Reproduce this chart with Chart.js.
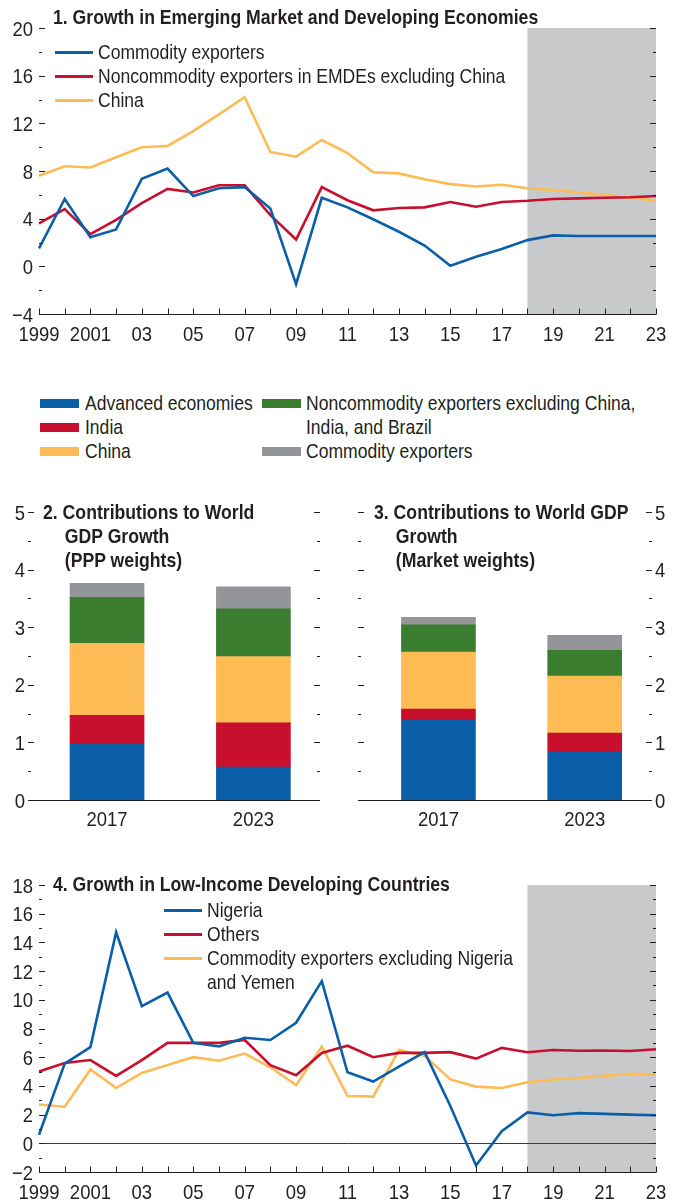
<!DOCTYPE html>
<html>
<head>
<meta charset="utf-8">
<script src="https://cdn.jsdelivr.net/npm/chart.js@4.4.1/dist/chart.umd.min.js"></script>
<style>
  body { margin: 0; background: #fff; }
  #page {
    position: relative; width: 681px; height: 1201px; overflow: hidden;
    font-family: "Liberation Sans", Arial, sans-serif;
    font-size: 21px; color: #231f20;
  }
  canvas { position: absolute; }
  /* condensed look: Arial metrics squeezed horizontally */
  .title { position: absolute; font-weight: bold; line-height: 24px; white-space: nowrap;
    transform: scaleX(0.84); transform-origin: 0 0; }
  .hang { padding-left: 26px; text-indent: -26px; }
  .key { position: absolute; line-height: 24px; white-space: nowrap;
    transform: scaleX(0.835); transform-origin: 0 0; }
  .ln { position: absolute; height: 3px; }
  .sw { position: absolute; height: 9px; }
</style>
</head>
<body>
<div id="page">
  <canvas id="emde" width="681" height="345" style="left:0;top:0"></canvas>
  <canvas id="ppp" width="340" height="345" style="left:0;top:490px"></canvas>
  <canvas id="market" width="341" height="345" style="left:340px;top:490px"></canvas>
  <canvas id="lidc" width="681" height="341" style="left:0;top:860px"></canvas>

  <div class="title" style="left:53px;top:5px">1. Growth in Emerging Market and Developing Economies</div>
  <div class="ln" style="left:55px;top:51px;width:38px;background:#0b5fa8"></div>
  <div class="key" style="left:98px;top:40px">Commodity exporters</div>
  <div class="ln" style="left:55px;top:75px;width:38px;background:#c8102e"></div>
  <div class="key" style="left:98px;top:64px">Noncommodity exporters in EMDEs excluding China</div>
  <div class="ln" style="left:55px;top:99px;width:38px;background:#fdbb55"></div>
  <div class="key" style="left:98px;top:88px">China</div>

  <div class="sw" style="left:40px;top:399px;width:39px;background:#0b5fa8"></div>
  <div class="key" style="left:85px;top:391px">Advanced economies</div>
  <div class="sw" style="left:40px;top:423px;width:39px;background:#c8102e"></div>
  <div class="key" style="left:85px;top:415px">India</div>
  <div class="sw" style="left:40px;top:447px;width:39px;background:#fdbb55"></div>
  <div class="key" style="left:85px;top:439px">China</div>
  <div class="sw" style="left:262px;top:399px;width:39px;background:#3a7d2e"></div>
  <div class="key" style="left:306px;top:391px">Noncommodity exporters excluding China,<br>India, and Brazil</div>
  <div class="sw" style="left:262px;top:447px;width:39px;background:#939598"></div>
  <div class="key" style="left:306px;top:439px">Commodity exporters</div>

  <div class="title hang" style="left:43px;top:500px">2. Contributions to World<br>GDP Growth<br>(PPP weights)</div>
  <div class="title hang" style="left:374px;top:500px">3. Contributions to World GDP<br>Growth<br>(Market weights)</div>

  <div class="title" style="left:53px;top:872px">4. Growth in Low-Income Developing Countries</div>
  <div class="ln" style="left:164px;top:909px;width:38px;background:#0b5fa8"></div>
  <div class="key" style="left:207px;top:898px">Nigeria</div>
  <div class="ln" style="left:164px;top:933px;width:38px;background:#c8102e"></div>
  <div class="key" style="left:207px;top:922px">Others</div>
  <div class="ln" style="left:164px;top:957px;width:38px;background:#fdbb55"></div>
  <div class="key" style="left:207px;top:946px">Commodity exporters excluding Nigeria<br>and Yemen</div>
</div>

<script>
const BLUE = "#0b5fa8", RED = "#c8102e", YELLOW = "#fdbb55", GREEN = "#3a7d2e", GRAY = "#939598";
const SHADE = "#c8c9cb", INK = "#231f20";
const LABEL_FONT = '21px "Liberation Sans", Arial, sans-serif';
const LABEL_SQUEEZE = 0.88;

const years = ["1999", "2000", "2001", "2002", "2003", "2004", "2005", "2006", "2007", "2008",
  "2009", "2010", "2011", "2012", "2013", "2014", "2015", "2016", "2017", "2018",
  "2019", "2020", "2021", "2022", "2023"];
const forecastStart = "2018";

// panel 1: EMDE growth, percent
const commodityExporters = [1.5, 5.65, 2.45, 3.1, 7.35, 8.2, 5.9, 6.55, 6.65, 4.85,
  -1.5, 5.75, 4.95, 3.95, 2.9, 1.75, 0.05, 0.8, 1.45, 2.2,
  2.6, 2.55, 2.55, 2.55, 2.55];
const noncommodityExChina = [3.6, 4.8, 2.7, 3.9, 5.3, 6.5, 6.2, 6.8, 6.8, 4.3,
  2.25, 6.65, 5.55, 4.7, 4.9, 4.95, 5.4, 5.0, 5.4, 5.5,
  5.65, 5.7, 5.75, 5.8, 5.9];
const china = [7.6, 8.4, 8.3, 9.15, 10.0, 10.1, 11.35, 12.75, 14.2, 9.6,
  9.2, 10.6, 9.5, 7.9, 7.8, 7.3, 6.9, 6.7, 6.85, 6.55,
  6.4, 6.2, 6.0, 5.75, 5.5];

// panels 2 and 3: contributions to world GDP growth, percentage points
const barYears = ["2017", "2023"];
const pppAdvanced = [0.97, 0.57];
const pppIndia = [0.50, 0.77];
const pppChina = [1.25, 1.15];
const pppNoncommodity = [0.80, 0.83];
const pppCommodity = [0.24, 0.38];
const mktAdvanced = [1.39, 0.84];
const mktIndia = [0.19, 0.32];
const mktChina = [0.99, 0.99];
const mktNoncommodity = [0.47, 0.45];
const mktCommodity = [0.13, 0.26];

// panel 4: LIDC growth, percent
const nigeria = [0.6, 5.55, 6.7, 14.7, 9.55, 10.5, 7.0, 6.75, 7.35, 7.2,
  8.4, 11.3, 4.95, 4.3, 5.35, 6.35, 2.6, -1.55, 0.85, 2.15,
  1.95, 2.1, 2.05, 2.0, 1.95];
const others = [5.0, 5.6, 5.8, 4.7, 5.8, 7.0, 7.0, 7.0, 7.2, 5.45,
  4.75, 6.3, 6.8, 6.0, 6.3, 6.3, 6.35, 5.9, 6.65, 6.35,
  6.5, 6.45, 6.47, 6.43, 6.55];
const commodityExNigeriaYemen = [2.7, 2.55, 5.15, 3.85, 4.9, 5.45, 6.0, 5.75, 6.25, 5.3,
  4.05, 6.75, 3.3, 3.25, 6.5, 6.1, 4.45, 3.95, 3.85, 4.25,
  4.45, 4.55, 4.7, 4.85, 4.8];

Chart.defaults.font.family = '"Liberation Sans", Arial, sans-serif';
Chart.defaults.font.size = 21;
Chart.defaults.color = INK;
Chart.defaults.animation = false;
Chart.defaults.responsive = false;
Chart.defaults.devicePixelRatio = 1;
Chart.defaults.plugins.legend.display = false;
Chart.defaults.plugins.tooltip.enabled = false;

function yearLabel(i) {
  const y = Number(years[i]);
  if (y % 2 === 0) return "";
  return (y === 1999 || y === 2001) ? String(y) : years[i].slice(2);
}

function minus(v) {
  return String(v).replace("-", "\u2212");
}

function squeezedText(ctx, text, x, y) {
  ctx.save();
  ctx.translate(x, y);
  ctx.scale(LABEL_SQUEEZE, 1);
  ctx.fillText(text, 0, 0);
  ctx.restore();
}

// shaded forecast band, zero line, inward ticks, baseline and narrow tick labels
const axisMarks = {
  id: "axisMarks",
  beforeDatasetsDraw(chart, args, opts) {
    const { ctx, chartArea: a, scales } = chart;
    ctx.save();
    if (opts.shadeFrom) {
      const x0 = scales.x.getPixelForValue(years.indexOf(opts.shadeFrom));
      ctx.fillStyle = SHADE;
      ctx.fillRect(x0, a.top, a.right - x0, a.bottom - a.top);
    }
    if (opts.zeroLine) {
      const y0 = Math.round(scales.y.getPixelForValue(0)) + 0.5;
      ctx.strokeStyle = "#3a3a3a";
      ctx.lineWidth = 1;
      ctx.beginPath();
      ctx.moveTo(a.left, y0);
      ctx.lineTo(a.right, y0);
      ctx.stroke();
    }
    ctx.restore();
  },
  afterDatasetsDraw(chart, args, opts) {
    const { ctx, chartArea: a, scales } = chart;
    const xs = scales.x, ys = scales.y;
    ctx.save();
    ctx.strokeStyle = INK;
    ctx.lineWidth = 1;
    ctx.beginPath();
    ys.ticks.forEach(t => {
      const y = Math.round(ys.getPixelForValue(t.value)) + 0.5;
      const len = t.label === "" ? 3 : 6;
      ctx.moveTo(a.left, y); ctx.lineTo(a.left + len, y);
      ctx.moveTo(a.right - len, y); ctx.lineTo(a.right, y);
    });
    const yb = Math.round(a.bottom) + 0.5;
    ctx.moveTo(a.left, yb); ctx.lineTo(a.right, yb);
    if (opts.xTicks) {
      xs.ticks.forEach(t => {
        const x = Math.round(xs.getPixelForValue(t.value)) + 0.5;
        ctx.moveTo(x, yb); ctx.lineTo(x, yb - 6);
      });
    }
    ctx.stroke();

    ctx.fillStyle = INK;
    ctx.font = LABEL_FONT;
    ctx.textBaseline = "alphabetic";
    ys.ticks.forEach(t => {
      if (!t.label) return;
      const y = ys.getPixelForValue(t.value) + 7.5;
      if (ys.position === "right") {
        ctx.textAlign = "left";
        squeezedText(ctx, t.label, ys.left + opts.yPad, y);
      } else {
        ctx.textAlign = "right";
        squeezedText(ctx, t.label, ys.right - opts.yPad, y);
      }
    });
    ctx.textAlign = "center";
    xs.ticks.forEach(t => {
      if (!t.label) return;
      squeezedText(ctx, t.label, xs.getPixelForValue(t.value), a.bottom + opts.xBase);
    });
    ctx.restore();
  }
};

function lineDataset(data, color) {
  return {
    data: data, borderColor: color, borderWidth: 2.6,
    pointRadius: 0, tension: 0, fill: false
  };
}

function renderLineChart(canvasId, series, yMin, yMax, step, labelStep, opts) {
  const ctx = document.getElementById(canvasId).getContext("2d");
  return new Chart(ctx, {
    type: "line",
    data: { labels: years, datasets: series.map(s => lineDataset(s[0], s[1])) },
    options: {
      layout: { padding: { left: 0, right: 25, top: opts.top, bottom: 0 } },
      scales: {
        x: {
          offset: false,
          grid: { display: false }, border: { display: false },
          ticks: { display: false, autoSkip: false, callback: (v, i) => yearLabel(i) },
          afterFit: s => { s.height = opts.xHeight; }
        },
        y: {
          min: yMin, max: yMax,
          grid: { display: false }, border: { display: false },
          ticks: {
            display: false, stepSize: step, autoSkip: false,
            callback: v => (v % labelStep === 0 ? minus(v) : "")
          },
          afterFit: s => { s.width = 39; }
        }
      },
      plugins: { axisMarks: { shadeFrom: forecastStart, zeroLine: opts.zeroLine, xTicks: true, yPad: 6, xBase: 27 } }
    },
    plugins: [axisMarks]
  });
}

function renderBarChart(canvasId, stacks, side, xMin, xMax) {
  const ctx = document.getElementById(canvasId).getContext("2d");
  const datasets = stacks.map(([values, color]) => ({
    data: values.map((v, i) => ({ x: i, y: v })),
    backgroundColor: color, barThickness: 74, borderWidth: 0
  }));
  return new Chart(ctx, {
    type: "bar",
    data: { datasets: datasets },
    options: {
      layout: { padding: side === "left" ? { left: 0, right: 20, top: 22, bottom: 0 } : { left: 18, right: 0, top: 22, bottom: 0 } },
      scales: {
        x: {
          type: "linear", min: xMin, max: xMax, offset: false, stacked: true,
          grid: { display: false }, border: { display: false },
          ticks: { display: false, stepSize: 1, includeBounds: false, autoSkip: false,
            callback: v => (barYears[v] !== undefined ? barYears[v] : "") },
          afterFit: s => { s.height = 35; }
        },
        y: {
          position: side, min: 0, max: 5, stacked: true,
          grid: { display: false }, border: { display: false },
          ticks: { display: false, stepSize: 0.5, autoSkip: false,
            callback: v => (v % 1 === 0 ? String(v) : "") },
          afterFit: s => { s.width = side === "left" ? 28 : 29; }
        }
      },
      plugins: { axisMarks: { xTicks: false, yPad: 3, xBase: 26 } }
    },
    plugins: [axisMarks]
  });
}

renderLineChart("emde", [
  [commodityExporters, BLUE],
  [noncommodityExChina, RED],
  [china, YELLOW]
], -4, 20, 2, 4, { top: 28, xHeight: 31, zeroLine: false });

renderBarChart("ppp", [
  [pppAdvanced, BLUE], [pppIndia, RED], [pppChina, YELLOW],
  [pppNoncommodity, GREEN], [pppCommodity, GRAY]
], "left", -0.54, 1.455);

renderBarChart("market", [
  [mktAdvanced, BLUE], [mktIndia, RED], [mktChina, YELLOW],
  [mktNoncommodity, GREEN], [mktCommodity, GRAY]
], "right", -0.55, 1.46);

renderLineChart("lidc", [
  [nigeria, BLUE],
  [others, RED],
  [commodityExNigeriaYemen, YELLOW]
], -2, 18, 1, 2, { top: 25, xHeight: 29, zeroLine: true });
</script>
</body>
</html>
